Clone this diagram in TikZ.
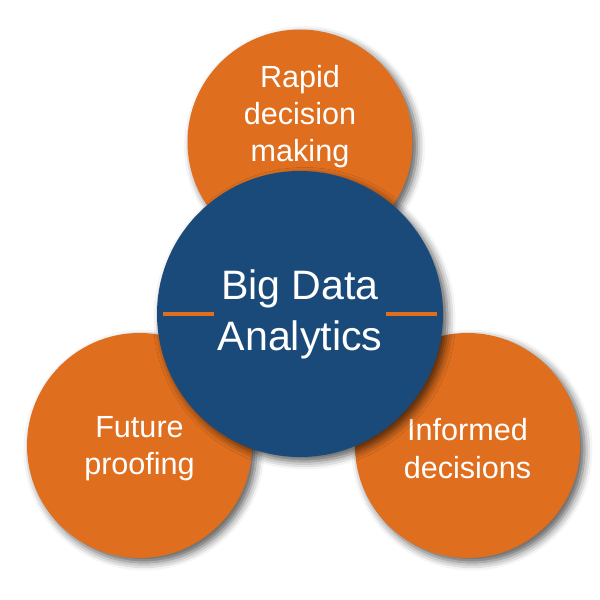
\documentclass[tikz,border=0pt]{standalone}
\usepackage{fontspec}
\setmainfont{Liberation Sans}
\usepackage{xcolor}
\usepackage{tikz}
\usetikzlibrary{shadows.blur}
\definecolor{bubbleorange}{HTML}{DF6F1F}
\definecolor{hubblue}{HTML}{1A4A7A}

\begin{document}
\begin{tikzpicture}[
    softshadow/.style={blur shadow={shadow xshift=0.045cm, shadow yshift=-0.045cm, shadow blur radius=0.08cm, shadow opacity=65}},
    bubble/.style={circle, fill=bubbleorange, minimum size=2.25cm, inner sep=0pt, softshadow},
    bubbletext/.style={text=white, align=center, font=\fontsize{8.7}{10.6}\selectfont},
    hub/.style={circle, fill=hubblue, minimum size=2.86cm, inner sep=0pt, softshadow, text=white, align=center, font=\fontsize{11.7}{14.5}\selectfont}
]
    \useasboundingbox (0,0) rectangle (6,6);
    \foreach \x/\y/\dy/\name/\label in {3.0/4.58/0.255/rapid/{Rapid\\decision\\making}, 1.395/1.545/-0.03/future/{Future\\proofing}, 4.675/1.545/-0.03/informed/{Informed\\decisions}} {
        \node[bubble] (\name) at (\x,\y) {};
        \node[bubbletext] (\name-text) at ([yshift=\dy cm]\name) {\label};
    }
    \node[hub] (hub) at (3.0,2.86) {Big Data\\Analytics};
    \coordinate (rule-l1) at ([xshift=0.07cm]hub.west);
    \coordinate (rule-l2) at ([xshift=0.58cm]hub.west);
    \coordinate (rule-r1) at ([xshift=-0.58cm]hub.east);
    \coordinate (rule-r2) at ([xshift=-0.07cm]hub.east);
    \draw[bubbleorange, line width=1.15pt] (rule-l1) -- (rule-l2);
    \draw[bubbleorange, line width=1.15pt] (rule-r1) -- (rule-r2);
\end{tikzpicture}
\end{document}
